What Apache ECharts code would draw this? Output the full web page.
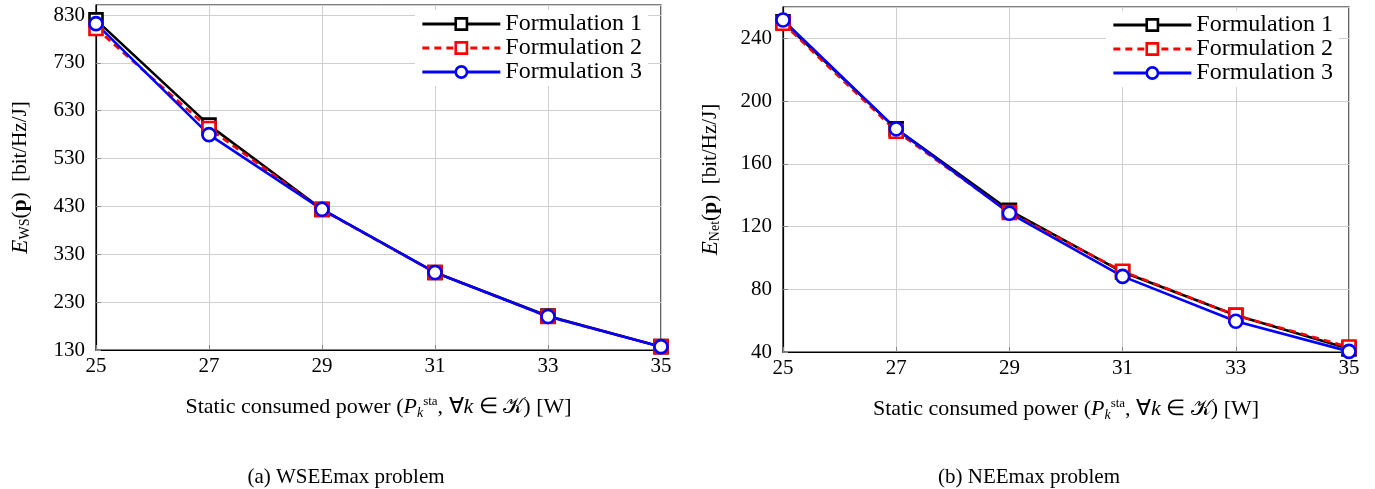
<!DOCTYPE html>
<html lang="en">
<head>
    <meta charset="UTF-8">
    <script src="https://cdn.jsdelivr.net/npm/echarts@6/dist/echarts.min.js"></script>
    <title>Static power</title>
    <style>
        html, body { margin: 0; padding: 0; background: #fff; }
        #main { width: 1375px; height: 489px; }
    </style>
</head>
<body>
<div id="main"></div>
<script>
    // x values (static consumed power, W)
    var power = [25, 27, 29, 31, 33, 35];
    var legendNames = ['Formulation 1', 'Formulation 2', 'Formulation 3'];

    // (a) WSEEmax problem
    var wsF1 = [820, 600, 424, 292, 201, 137];
    var wsF2 = [802, 593, 423, 292, 200, 137];
    var wsF3 = [812, 580, 424, 292, 200, 137];

    // (b) NEEmax problem
    var netF1 = [250.5, 182.3, 130.3, 91, 63.4, 42];
    var netF2 = [249.6, 180.8, 129, 91.5, 63.4, 43.2];
    var netF3 = [251.7, 182.3, 128.5, 88.2, 59.6, 40.4];

    var serif = 'Liberation Serif';
    var chart = echarts.init(document.getElementById('main'));

    function pairs(ys) {
        var res = [];
        for (var i = 0; i < power.length; i++) {
            res.push([power[i], ys[i]]);
        }
        return res;
    }

    var styles = [
        {color: '#000000', type: 'solid', symbol: 'rect', size: 13},
        {color: '#ff0000', type: [7, 5], symbol: 'rect', size: 13},
        {color: '#0000ff', type: 'solid', symbol: 'circle', size: 13}
    ];

    function mkSeries(name, data, st, idx) {
        return {
            name: name,
            type: 'line',
            xAxisIndex: idx,
            yAxisIndex: idx,
            data: pairs(data),
            symbol: st.symbol,
            symbolSize: st.size,
            showAllSymbol: true,
            animation: false,
            lineStyle: {color: st.color, width: 2.6, type: st.type},
            itemStyle: {color: '#ffffff', borderColor: st.color, borderWidth: 2.6}
        };
    }

    var richName = {
        i: {fontFamily: serif, fontStyle: 'italic', fontSize: 23, color: '#000'},
        s: {fontFamily: serif, fontSize: 14, color: '#000', padding: [9, 0, 0, 0]},
        b: {fontFamily: serif, fontWeight: 'bold', fontSize: 22, color: '#000'},
        t: {fontFamily: serif, fontSize: 21, color: '#000'},
        x: {fontFamily: serif, fontSize: 22, color: '#000'},
        xi: {fontFamily: serif, fontStyle: 'italic', fontSize: 22, color: '#000'},
        up: {fontFamily: serif, fontSize: 13, color: '#000', padding: [0, 0, 11, 0]},
        lo: {fontFamily: serif, fontSize: 14, fontStyle: 'italic', color: '#000', padding: [12, 0, 0, 0]}
    };

    var xName = '{x|Static consumed power (}{xi|P}{lo|k}{up|sta}{x|, ∀}{xi|k}{x| ∈ 𝒦) [W]}';

    function xAxisCfg(idx) {
        return {
            type: 'value',
            gridIndex: idx,
            min: 25,
            max: 35,
            interval: 2,
            name: xName,
            nameLocation: 'middle',
            nameGap: 44,
            nameTextStyle: {rich: richName},
            axisLine: {onZero: false, lineStyle: {color: '#000', width: 1.2}},
            axisTick: {inside: true, length: 5, lineStyle: {color: '#888'}},
            axisLabel: {fontFamily: serif, fontSize: 21, color: '#000', margin: 6},
            splitLine: {show: true, lineStyle: {color: '#cfcfcf', width: 1}}
        };
    }

    function yAxisCfg(idx, min, max, interval, nameStr, gap) {
        return {
            type: 'value',
            gridIndex: idx,
            min: min,
            max: max,
            interval: interval,
            name: nameStr,
            nameLocation: 'middle',
            nameGap: gap,
            nameRotate: 90,
            nameTextStyle: {rich: richName},
            axisLine: {show: true, lineStyle: {color: '#000', width: 1.2}},
            axisTick: {inside: true, length: 5, lineStyle: {color: '#888'}},
            axisLabel: {fontFamily: serif, fontSize: 21, color: '#000', margin: 11, showMaxLabel: false},
            splitLine: {show: true, lineStyle: {color: '#cfcfcf', width: 1}}
        };
    }

    function legendCfg(right, top) {
        return {
            data: legendNames.slice(),
            orient: 'vertical',
            right: right,
            top: top,
            itemGap: 0,
            itemWidth: 78,
            itemHeight: 14,
            backgroundColor: '#ffffff',
            padding: [2, 6, 2, 6],
            lineStyle: {width: 2.8},
            itemStyle: {borderWidth: 2.6},
            textStyle: {fontFamily: serif, fontSize: 24, lineHeight: 24, color: '#000'},
            selectedMode: false
        };
    }

    var series = [];
    [wsF1, wsF2, wsF3].forEach(function (d, i) {
        series.push(mkSeries(legendNames[i], d, styles[i], 0));
    });
    [netF1, netF2, netF3].forEach(function (d, i) {
        series.push(mkSeries(legendNames[i], d, styles[i], 1));
    });

    var option = {
        backgroundColor: '#ffffff',
        animation: false,
        title: [
            {text: '(a) WSEEmax problem', left: 341, top: 462, textAlign: 'center',
                textStyle: {fontFamily: serif, fontSize: 21, fontWeight: 'normal', color: '#000'}},
            {text: '(b) NEEmax problem', left: 1024, top: 462, textAlign: 'center',
                textStyle: {fontFamily: serif, fontSize: 21, fontWeight: 'normal', color: '#000'}}
        ],
        legend: [legendCfg(727, 10), legendCfg(36, 11)],
        grid: [
            {left: 96, right: 714, top: 5, bottom: 139, show: true, borderColor: '#000', borderWidth: 1.2},
            {left: 783, right: 26, top: 7, bottom: 137, show: true, borderColor: '#000', borderWidth: 1.2}
        ],
        xAxis: [xAxisCfg(0), xAxisCfg(1)],
        yAxis: [
            yAxisCfg(0, 130, 851, 100, '{i|E}{s|WS}{t|(}{b|p}{t|)  [bit/Hz/J]}', 64),
            yAxisCfg(1, 40, 260, 40, '{i|E}{s|Net}{t|(}{b|p}{t|)  [bit/Hz/J]}', 61)
        ],
        series: series
    };
    chart.setOption(option);
</script>
</body>
</html>
